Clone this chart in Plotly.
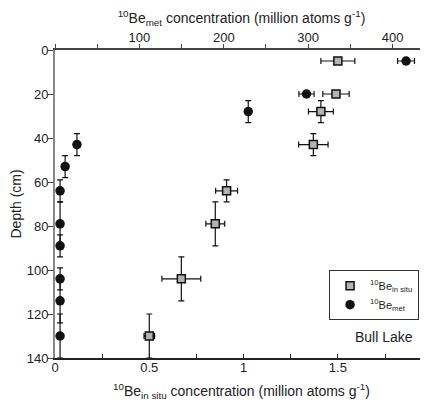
import plotly.graph_objects as go

# 10Be in situ (bottom axis, million atoms/g)
insitu_depth = [5, 20, 28, 43, 64, 79, 104, 130]
insitu_conc = [1.50, 1.49, 1.41, 1.37, 0.91, 0.85, 0.67, 0.50]
insitu_xerr = [0.09, 0.07, 0.066, 0.078, 0.058, 0.05, 0.103, 0.028]
insitu_yerr = [0, 0, 5, 5, 5, 10, 10, 10]

# 10Be meteoric (top axis, million atoms/g)
met_depth = [5, 20, 28, 43, 53, 64, 79, 89, 104, 114, 130]
met_conc = [416, 298, 229, 26, 12, 6, 6, 6, 6, 6, 6]
met_xerr = [10, 9, 0, 0, 0, 0, 0, 0, 0, 0, 0]
met_yerr = [0, 0, 5, 5, 5, 5, 10, 5, 5, 10, 10]

bottom_ticks = [0, 0.5, 1, 1.5]
bottom_ticklabels = ["0", "0.5", "1", "1.5"]
top_ticks = [100, 200, 300, 400]
depth_ticks = [0, 20, 40, 60, 80, 100, 120, 140]

FONT = "Arial, Liberation Sans, sans-serif"

fig = go.Figure()

fig.add_trace(go.Scatter(
    x=insitu_conc, y=insitu_depth, mode="markers", xaxis="x", yaxis="y",
    name="<sup>10</sup>Be<sub>in situ</sub>",
    marker=dict(symbol="square", size=8, color="#b3b3b3", line=dict(color="#111", width=1.5)),
    error_x=dict(type="data", array=insitu_xerr, color="#111", thickness=1.2, width=3),
    error_y=dict(type="data", array=insitu_yerr, color="#111", thickness=1.2, width=3),
))

fig.add_trace(go.Scatter(
    x=met_conc, y=met_depth, mode="markers", xaxis="x2", yaxis="y",
    name="<sup>10</sup>Be<sub>met</sub>",
    marker=dict(symbol="circle", size=9.5, color="#111", line=dict(color="#111", width=0)),
    error_x=dict(type="data", array=met_xerr, color="#111", thickness=1.2, width=3),
    error_y=dict(type="data", array=met_yerr, color="#111", thickness=1.2, width=3),
))

fig.add_annotation(x=0.883, y=0.068, xref="paper", yref="paper", text="Bull Lake",
                   xanchor="center", yanchor="middle",
                   showarrow=False, font=dict(size=14, color="#222", family=FONT))

# the page has an 8px body margin, so the figure is sized 8px smaller
fig.update_layout(
    width=420, height=397,
    margin=dict(l=47, r=0, t=42, b=47, autoexpand=False),
    paper_bgcolor="white", plot_bgcolor="white",
    font=dict(family=FONT, size=13, color="#222"),
    showlegend=True,
    legend=dict(x=0.976, y=0.285, xanchor="right", yanchor="top",
                bordercolor="#333", borderwidth=1, bgcolor="white",
                font=dict(size=11, family=FONT), itemwidth=30,
                tracegroupgap=2),
    xaxis=dict(
        range=[0, 1.978], tickvals=bottom_ticks, ticktext=bottom_ticklabels,
        ticks="inside", ticklen=4, tickcolor="#222", automargin=False,
        ticklabelstandoff=-3,
        minor=dict(dtick=0.25, tick0=0, ticks="inside", ticklen=4, tickcolor="#222"),
        showline=True, linecolor="#222", linewidth=1.5, showgrid=False, zeroline=False,
        title=dict(text="<sup>10</sup>Be<sub>in situ</sub> concentration (million atoms g<sup>-1</sup>)",
                   font=dict(size=14), standoff=12),
        tickfont=dict(size=13),
    ),
    xaxis2=dict(
        range=[0, 442], overlaying="x", side="top", anchor="y", automargin=False,
        tickvals=top_ticks, ticks="outside", ticklen=4, tickcolor="#444",
        ticklabelstandoff=-3,
        minor=dict(dtick=50, tick0=0, ticks="outside", ticklen=4, tickcolor="#444"),
        showline=True, linecolor="#444", linewidth=1.5, showgrid=False, zeroline=False,
        title=dict(text="<sup>10</sup>Be<sub>met</sub> concentration (million atoms g<sup>-1</sup>)",
                   font=dict(size=14), standoff=8),
        tickfont=dict(size=13),
    ),
    yaxis=dict(
        range=[140, 0], tickvals=depth_ticks, ticks="outside", ticklen=5, tickcolor="#444",
        automargin=False, ticklabelstandoff=-3,
        showline=True, linecolor="#888", linewidth=2, showgrid=False, zeroline=False,
        title=dict(text="Depth (cm)", font=dict(size=14), standoff=3),
        tickfont=dict(size=13),
    ),
)

fig.write_html("out.html")
